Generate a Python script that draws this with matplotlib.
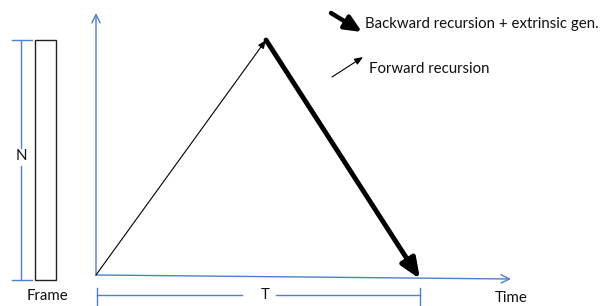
import matplotlib
matplotlib.use("Agg")
import matplotlib.pyplot as plt
from matplotlib.patches import FancyArrowPatch, Rectangle

# Diagram geometry (pixel space of the original picture)
origin = (96, 275)
peak = (266, 40)
t_end = (420, 279)
y_axis_top = (96, 13)
x_axis_end = (511, 279)
frame_box = (35, 40, 21, 240)  # x, y, width, height
n_dim_x = 21
t_dim_y = 295
labels = {
    "N": (21, 156),
    "Frame": (48, 296),
    "T": (265, 295),
    "Time": (495, 298),
    "Backward recursion + extrinsic gen.": (365, 24),
    "Forward recursion": (369, 69),
}
legend_thick = ((331, 13), (362, 32))
legend_thin = ((332, 77), (363, 57))

BLUE = "#4F7FC8"
plt.rcParams['font.family'] = ['Lato', 'DejaVu Sans']

fig = plt.figure(figsize=(6.07, 3.06), dpi=100)
ax = fig.add_axes([0, 0, 1, 1])
ax.set_xlim(0, 607)
ax.set_ylim(306, 0)
ax.axis("off")

# Frame rectangle
x, y, w, h = frame_box
ax.add_patch(Rectangle((x, y), w, h, fill=False, edgecolor="#222222", lw=1.0))

# N dimension
ax.plot([n_dim_x, n_dim_x], [frame_box[1], 148], color=BLUE, lw=1)
ax.plot([n_dim_x, n_dim_x], [166, frame_box[1] + frame_box[3]], color=BLUE, lw=1)
ax.plot([12, 32], [frame_box[1], frame_box[1]], color=BLUE, lw=1)
ax.plot([12, 32], [frame_box[1] + frame_box[3]] * 2, color=BLUE, lw=1)

# Axes
ax.add_patch(FancyArrowPatch(origin, y_axis_top, arrowstyle="->,head_length=6,head_width=3",
                             color=BLUE, lw=1, shrinkA=0, shrinkB=0))
ax.add_patch(FancyArrowPatch(origin, x_axis_end, arrowstyle="->,head_length=6,head_width=3",
                             color=BLUE, lw=1, shrinkA=0, shrinkB=0))

# Forward recursion arrow
ax.add_patch(FancyArrowPatch(origin, peak, arrowstyle="-|>,head_length=5,head_width=2",
                             color="black", lw=0.8, shrinkA=0, shrinkB=0))
# Backward recursion arrow
ax.add_patch(FancyArrowPatch(peak, t_end, arrowstyle="-|>,head_length=12,head_width=5",
                             color="black", lw=3.5, shrinkA=0, shrinkB=0))

# T dimension
ax.plot([origin[0] + 1, origin[0] + 1], [288, 306], color=BLUE, lw=1)
ax.plot([t_end[0], t_end[0]], [288, 306], color=BLUE, lw=1)
ax.plot([origin[0] + 1, 242], [t_dim_y, t_dim_y], color=BLUE, lw=1)
ax.plot([276, t_end[0]], [t_dim_y, t_dim_y], color=BLUE, lw=1)

# Legend arrows
ax.add_patch(FancyArrowPatch(*legend_thick, arrowstyle="-|>,head_length=10,head_width=4.5",
                             color="black", lw=3.2, shrinkA=0, shrinkB=0))
ax.add_patch(FancyArrowPatch(*legend_thin, arrowstyle="-|>,head_length=5,head_width=2",
                             color="black", lw=0.8, shrinkA=0, shrinkB=0))

# Texts
for txt, (tx, ty) in labels.items():
    if txt in ("N", "Frame", "T"):
        ha = "center"
    else:
        ha = "left"
    ax.text(tx, ty, txt, ha=ha, va="center", fontsize=10.8, color="#111111")

fig.savefig("out.png", dpi=100)
